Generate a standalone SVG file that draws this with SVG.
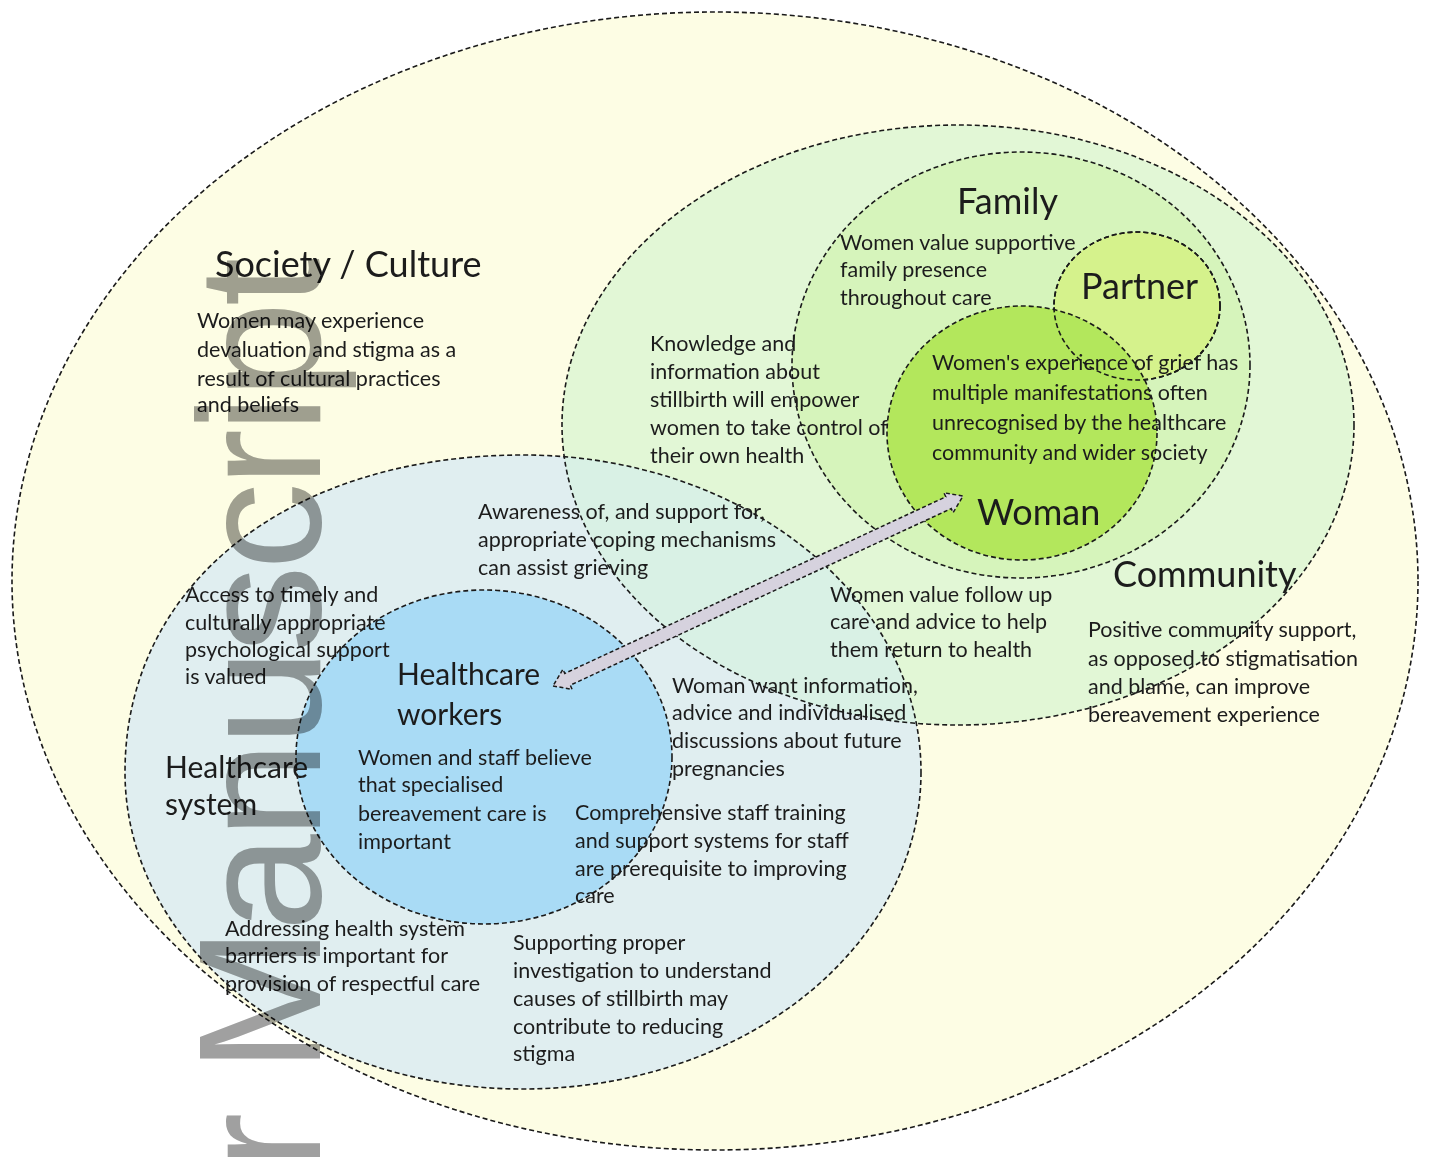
<svg xmlns="http://www.w3.org/2000/svg" xmlns:xlink="http://www.w3.org/1999/xlink" width="1429" height="1157" viewBox="0 0 1429 1157">
<style>
.outline{fill:none;stroke:#1a1a1a;stroke-width:1.6;stroke-dasharray:5 3}
.t{font-family:Lato,"Liberation Sans",sans-serif;fill:#1c1c1c}
.title{font-size:36px}
.sub{font-size:30px}
.body{font-size:21.5px}
.wm{font-family:"Liberation Sans",Arial,sans-serif;font-size:175px;fill:#a0a0a0;letter-spacing:-4.5px}
</style>
<defs>
<ellipse id="g-soc" cx="715" cy="581" rx="703" ry="569"/>
<ellipse id="g-comm" cx="958" cy="425" rx="396" ry="300"/>
<ellipse id="g-fam" cx="1021" cy="365" rx="229" ry="213"/>
<ellipse id="g-part" cx="1137" cy="306" rx="83" ry="74"/>
<ellipse id="g-wom" cx="1022" cy="433" rx="135" ry="127"/>
<path id="g-hcs" d="M921,772 C921,947 743,1089 523,1089 C303,1089 125,947 125,772 C125,585 288,455 523,455 C743,455 921,597 921,772 Z"/>
<ellipse id="g-hcw" cx="484" cy="757" rx="188" ry="167"/>
<clipPath id="clip-hcs"><use xlink:href="#g-hcs"/></clipPath>
</defs>
<rect width="1429" height="1157" fill="#ffffff"/>

<g id="society-culture">
<use xlink:href="#g-soc" fill="#fdfde4"/>
<use xlink:href="#g-soc" class="outline"/>
<text class="t title" x="215" y="277">Society / Culture</text>
<text class="t body" x="197" y="328">Women may experience</text>
<text class="t body" x="197" y="357">devaluation and stigma as a</text>
<text class="t body" x="197" y="386">result of cultural practices</text>
<text class="t body" x="197" y="412">and beliefs</text>
</g>

<g id="community">
<use xlink:href="#g-comm" fill="#e2f7d6"/>
<use xlink:href="#g-comm" class="outline"/>
<text class="t title" x="1113" y="587">Community</text>
<text class="t body" x="1088" y="637">Positive community support,</text>
<text class="t body" x="1088" y="666">as opposed to stigmatisation</text>
<text class="t body" x="1088" y="694">and blame, can improve</text>
<text class="t body" x="1088" y="722">bereavement experience</text>
</g>

<g id="family">
<use xlink:href="#g-fam" fill="#d6f4bb"/>
<use xlink:href="#g-fam" class="outline"/>
<text class="t title" x="957" y="214">Family</text>
<text class="t body" x="840" y="250">Women value supportive</text>
<text class="t body" x="840" y="277">family presence</text>
<text class="t body" x="840" y="305">throughout care</text>
</g>

<g id="partner">
<use xlink:href="#g-part" fill="#d5f28c"/>
<use xlink:href="#g-part" class="outline"/>
<text class="t title" x="1081" y="299">Partner</text>
</g>

<g id="woman">
<use xlink:href="#g-wom" fill="#b3e75c"/>
<use xlink:href="#g-wom" class="outline"/>
<use xlink:href="#g-part" class="outline"/>
<text class="t body" x="932" y="370">Women's experience of grief has</text>
<text class="t body" x="932" y="400">multiple manifestations often</text>
<text class="t body" x="932" y="430">unrecognised by the healthcare</text>
<text class="t body" x="932" y="460">community and wider society</text>
<text class="t title" x="977" y="525">Woman</text>
<text class="t body" x="650" y="351">Knowledge and</text>
<text class="t body" x="650" y="379">information about</text>
<text class="t body" x="650" y="407">stillbirth will empower</text>
<text class="t body" x="650" y="435">women to take control of</text>
<text class="t body" x="650" y="463">their own health</text>
</g>

<g id="healthcare-system">
<use xlink:href="#g-hcs" fill="#e0eef0"/>
<g clip-path="url(#clip-hcs)">
<use xlink:href="#g-comm" fill="#d9f1e5"/>
<use xlink:href="#g-comm" class="outline"/>
</g>
<use xlink:href="#g-hcs" class="outline"/>
<text class="t body" x="478" y="519">Awareness of, and support for,</text>
<text class="t body" x="478" y="547">appropriate coping mechanisms</text>
<text class="t body" x="478" y="575">can assist grieving</text>
<text class="t body" x="830" y="602">Women value follow up</text>
<text class="t body" x="830" y="629">care and advice to help</text>
<text class="t body" x="830" y="657">them return to health</text>
<text class="t body" x="513" y="950">Supporting proper</text>
<text class="t body" x="513" y="978">investigation to understand</text>
<text class="t body" x="513" y="1006">causes of stillbirth may</text>
<text class="t body" x="513" y="1034">contribute to reducing</text>
<text class="t body" x="513" y="1061">stigma</text>
</g>

<g id="healthcare-workers">
<use xlink:href="#g-hcw" fill="#a9dbf5"/>
<use xlink:href="#g-hcw" class="outline"/>
<text class="t sub" x="397" y="685">Healthcare</text>
<text class="t sub" x="397" y="725">workers</text>
<text class="t body" x="358" y="765">Women and staff believe</text>
<text class="t body" x="358" y="792">that specialised</text>
<text class="t body" x="358" y="821">bereavement care is</text>
<text class="t body" x="358" y="849">important</text>
<text class="t sub" x="165" y="778">Healthcare</text>
<text class="t sub" x="165" y="815">system</text>
<text class="t body" x="185" y="602">Access to timely and</text>
<text class="t body" x="185" y="630">culturally appropriate</text>
<text class="t body" x="185" y="657">psychological support</text>
<text class="t body" x="185" y="684">is valued</text>
<text class="t body" x="672" y="693">Woman want information,</text>
<text class="t body" x="672" y="720">advice and individualised</text>
<text class="t body" x="672" y="748">discussions about future</text>
<text class="t body" x="672" y="776">pregnancies</text>
<text class="t body" x="575" y="820">Comprehensive staff training</text>
<text class="t body" x="575" y="848">and support systems for staff</text>
<text class="t body" x="575" y="876">are prerequisite to improving</text>
<text class="t body" x="575" y="903">care</text>
<text class="t body" x="225" y="936">Addressing health system</text>
<text class="t body" x="225" y="963">barriers is important for</text>
<text class="t body" x="225" y="991">provision of respectful care</text>
</g>

<g id="connectors">
<polygon points="553,686 572.1,689.3 570.3,685.2 951.2,508.6 953.1,512.7 963,496 943.9,492.8 945.8,496.8 564.8,673.4 562.9,669.3" fill="#d6d2de" stroke="#1a1a1a" stroke-width="1.5" stroke-dasharray="4 2.5" stroke-linejoin="miter"/>
</g>

<g id="watermark" style="mix-blend-mode:multiply">
<text class="wm" text-anchor="end" transform="translate(320,262) rotate(-90)">Author Manuscript</text>
</g>
</svg>
